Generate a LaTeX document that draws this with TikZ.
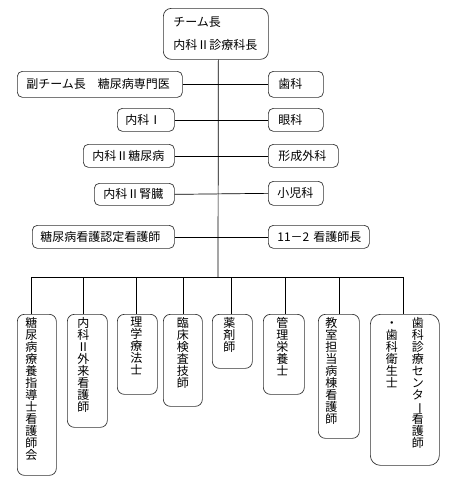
\documentclass[tikz,border=0pt]{standalone}
\usepackage{fontspec}
\setmainfont{Noto Sans CJK JP}
\usepackage{graphicx}
\newcommand\tatecol[1]{\parbox[t]{12pt}{\centering\fontsize{12}{12}\selectfont\lineskiplimit=-20pt #1}}
\newcommand\tatebox[4]{\parbox[t][#2pt][t]{#1pt}{\vspace*{3pt}\centering\hspace*{#3pt}\tatecol{#4}\par}}
\newcommand\chobar{\rotatebox[origin=c]{-90}{ー}}
\begin{document}
\begin{tikzpicture}[x=1pt,y=-1pt,
  box/.style={draw=black!80, line width=0.7pt, rounded corners=5pt, align=left,
    font=\fontsize{12}{14}\selectfont, inner ysep=0pt, anchor=north west},
  tbox/.style={draw=black!80, line width=0.7pt, rounded corners=7pt, inner sep=0pt, anchor=north west},
  conn/.style={draw=black, line width=0.7pt}]
\useasboundingbox (0,0) rectangle (448,482);

% top
\node[box, rounded corners=8pt, minimum height=51pt, inner xsep=10pt, text width=85pt] (top) at (163,8)
  {チーム長\\[9pt]内科Ⅱ診療科長};

% rows
\node[box, minimum height=26pt, inner xsep=9pt, text width=147pt] (L1) at (17,71) {副チーム長　糖尿病専門医};
\node[box, minimum height=26pt, inner xsep=10pt, text width=35pt] (R1) at (268,71) {歯科};
\node[box, minimum height=23pt, inner xsep=8pt, text width=41pt] (L2) at (117,108) {内科Ⅰ};
\node[box, minimum height=23pt, inner xsep=10pt, text width=35pt] (R2) at (268,108) {眼科};
\node[box, minimum height=23pt, inner xsep=9pt, text width=73pt] (L3) at (83,144) {内科Ⅱ糖尿病};
\node[box, minimum height=23pt, inner xsep=10pt, text width=50pt] (R3) at (268,144) {形成外科};
\node[box, minimum height=22pt, inner xsep=9pt, text width=62pt] (L4) at (94,183) {内科Ⅱ腎臓};
\node[box, minimum height=24pt, inner xsep=9pt, text width=37pt] (R4) at (268,181) {小児科};
\node[box, minimum height=23pt, inner xsep=8pt, text width=126pt] (L5) at (32,225) {糖尿病看護認定看護師};
\node[box, minimum height=23pt, inner xsep=9pt, text width=83pt] (R5) at (268,225) {\mbox{11－2 看護師長}};

% bottom boxes
\node[tbox] (b1) at (17,314) {\tatebox{39}{161}{-11}{糖\\尿\\病\\療\\養\\指\\導\\士\\看\\護\\師\\会}};
\node[tbox] (b2) at (67,314) {\tatebox{40}{113}{-8}{内\\科\\Ⅱ\\外\\来\\看\\護\\師}};
\node[tbox] (b3) at (117,314) {\tatebox{40}{80}{-2}{理\\学\\療\\法\\士}};
\node[tbox] (b4) at (163,314) {\tatebox{39}{92}{0}{臨\\床\\検\\査\\技\\師}};
\node[tbox] (b5) at (212,314) {\tatebox{40}{54}{-6}{薬\\剤\\師}};
\node[tbox] (b6) at (263,314) {\tatebox{41}{80}{-3}{管\\理\\栄\\養\\士}};
\node[tbox] (b7) at (318,314) {\tatebox{41}{124}{-15}{教\\室\\担\\当\\病\\棟\\看\\護\\師}};
\node[tbox, rounded corners=10pt] (b8) at (370,314)
  {\parbox[t][151pt][t]{69pt}{\vspace*{3pt}\centering\tatecol{・\\歯\\科\\衛\\生\\士}\hspace{14pt}\tatecol{歯\\科\\診\\療\\セ\\ン\\タ\\\chobar\\看\\護\\師}\par}};

% connectors
\coordinate (bus) at (218,277);
\draw[conn] ([xshift=2.5pt]top.south) -- (bus);
\draw[conn] (L1.east) -- (R1.west);
\draw[conn] (L2.east) -- (R2.west);
\draw[conn] (L3.east) -- (R3.west);
\draw[conn] (L4.east) -- (R4.west);
\draw[conn] (L5.east) -- (R5.west);
\draw[conn] ([xshift=-5.5pt]b1.north) |- (bus);
\draw[conn] ([xshift=-1.5pt]b8.north) |- (bus);
\draw[conn] ([xshift=-4pt]b2.north) |- (bus);
\draw[conn] ([xshift=-1pt]b3.north) |- (bus);
\draw[conn] (b4.north) |- (bus);
\draw[conn] ([xshift=-1pt]b5.north) |- (bus);
\draw[conn] ([xshift=1.5pt]b6.north) |- (bus);
\draw[conn] (b7.north) |- (bus);
\end{tikzpicture}
\end{document}
